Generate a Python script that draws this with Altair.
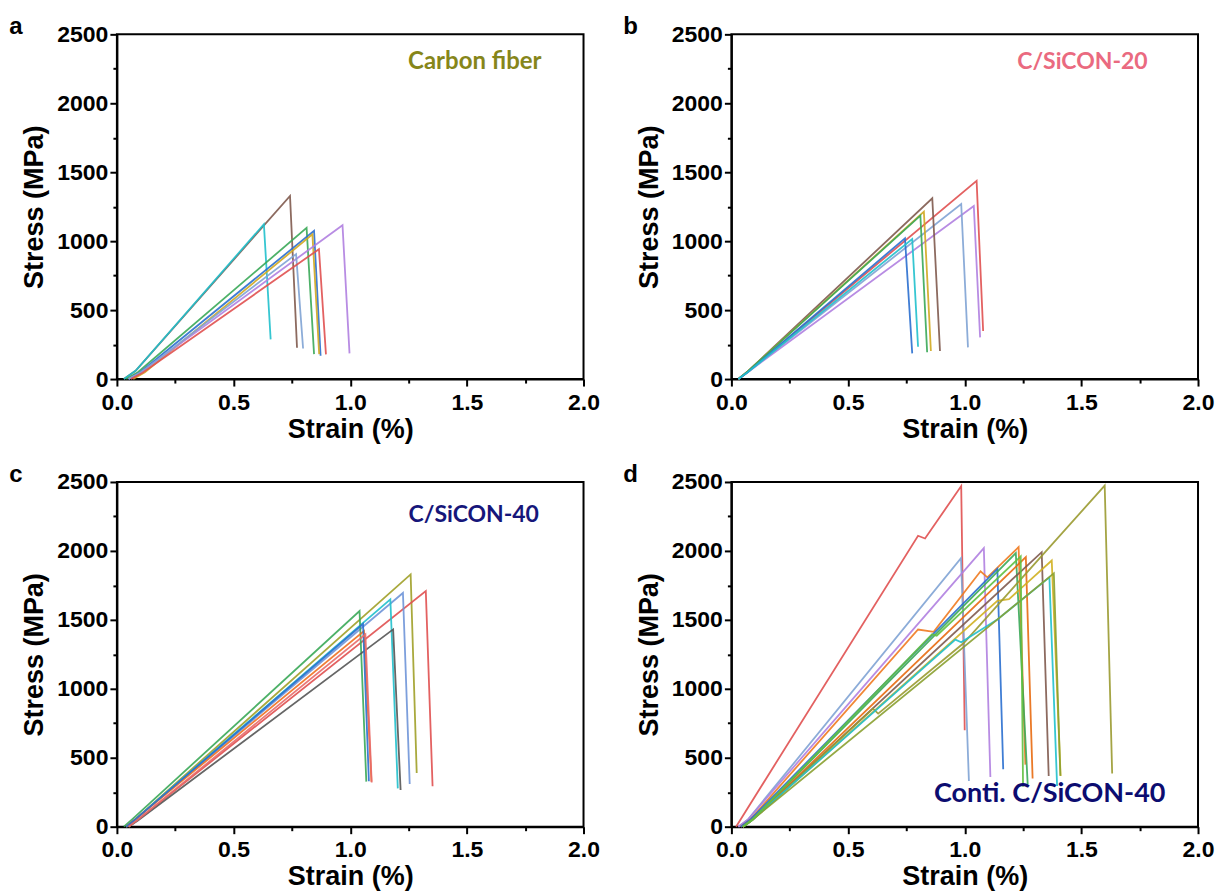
import altair as alt
import pandas as pd

LABEL_FONT = "Liberation Sans"
NOTE_FONT = "Lato"

X_TICKS = [0, 0.25, 0.5, 0.75, 1.0, 1.25, 1.5, 1.75, 2.0]
Y_TICKS = [0, 250, 500, 750, 1000, 1250, 1500, 1750, 2000, 2250, 2500]

# ---------------- panel a : Carbon fiber ----------------
A_COLORS = ["#7f5a4e", "#20c0cc", "#3aa858", "#2a6fcf", "#d0a820", "#b080e0", "#7fa3d4", "#e05050"]
A_STRAIN = [
    [0.03, 0.08, 0.742, 0.772],
    [0.03, 0.08, 0.630, 0.659],
    [0.04, 0.09, 0.813, 0.845],
    [0.05, 0.10, 0.845, 0.873],
    [0.07, 0.12, 0.838, 0.867],
    [0.05, 0.10, 0.967, 0.997],
    [0.05, 0.10, 0.768, 0.798],
    [0.06, 0.11, 0.866, 0.896],
]
A_STRESS = [
    [0, 60, 1328, 227],
    [0, 60, 1123, 288],
    [0, 50, 1096, 181],
    [0, 50, 1075, 169],
    [0, 50, 1049, 181],
    [0, 45, 1116, 186],
    [0, 45, 906, 222],
    [0, 45, 942, 179],
]

# ---------------- panel b : C/SiCON-20 ----------------
B_COLORS = ["#e05050", "#b080e0", "#7fa3d4", "#7f5a4e", "#d0a820", "#3aa858", "#2a6fcf", "#20c0cc"]
B_STRAIN = [
    [0.03, 0.07, 1.051, 1.079],
    [0.03, 0.07, 1.039, 1.066],
    [0.03, 0.07, 0.985, 1.014],
    [0.03, 0.07, 0.861, 0.894],
    [0.03, 0.07, 0.825, 0.855],
    [0.03, 0.07, 0.810, 0.839],
    [0.03, 0.07, 0.744, 0.775],
    [0.03, 0.07, 0.775, 0.800],
]
B_STRESS = [
    [0, 50, 1437, 348],
    [0, 50, 1255, 302],
    [0, 50, 1270, 230],
    [0, 55, 1311, 203],
    [0, 55, 1214, 203],
    [0, 55, 1185, 194],
    [0, 50, 1021, 186],
    [0, 50, 1016, 234],
]

# ---------------- panel c : C/SiCON-40 ----------------
C_COLORS = ["#a0a028", "#e05050", "#6f95d8", "#20c0cc", "#3aa858", "#555555", "#f07020", "#2a6fcf", "#e86a6a"]
C_STRAIN = [
    [0.04, 0.08, 1.259, 1.285],
    [0.05, 0.09, 1.324, 1.353],
    [0.04, 0.08, 1.226, 1.255],
    [0.04, 0.08, 1.172, 1.204],
    [0.03, 0.07, 1.040, 1.069],
    [0.05, 0.09, 1.184, 1.216],
    [0.04, 0.08, 1.059, 1.091],
    [0.04, 0.08, 1.055, 1.080],
    [0.05, 0.09, 1.065, 1.092],
]
C_STRESS = [
    [0, 55, 1830, 390],
    [0, 50, 1709, 293],
    [0, 55, 1695, 310],
    [0, 55, 1649, 278],
    [0, 60, 1564, 327],
    [0, 45, 1431, 266],
    [0, 55, 1419, 327],
    [0, 55, 1470, 330],
    [0, 50, 1395, 320],
]

# ---------------- panel d : Conti. C/SiCON-40 ----------------
D_COLORS = ["#e05050", "#7fa3d4", "#b080e0", "#f07a20", "#2a6fcf", "#3aa858", "#e86a10",
            "#7f5a4e", "#d0b020", "#9a9a30", "#20c0cc", "#8aa030", "#60c040"]
D_STRAIN = [
    [0.02, 0.80, 0.83, 0.985, 1.000],
    [0.03, 0.07, 0.984, 1.018],
    [0.03, 0.07, 1.082, 1.110],
    [0.04, 0.08, 0.80, 0.867, 1.068, 1.097, 1.231, 1.260],
    [0.04, 0.08, 1.140, 1.165],
    [0.05, 0.09, 1.219, 1.270],
    [0.05, 0.09, 1.262, 1.291],
    [0.05, 0.09, 1.330, 1.360],
    [0.05, 0.09, 1.140, 1.190, 1.373, 1.411],
    [0.05, 0.09, 0.607, 0.629, 0.996, 1.600, 1.632],
    [0.05, 0.09, 0.960, 0.985, 1.140, 1.363, 1.396],
    [0.05, 0.09, 1.382, 1.410],
    [0.05, 0.09, 0.860, 0.880, 1.240, 1.250],
]
D_STRESS = [
    [0, 2110, 2090, 2470, 700],
    [0, 50, 1947, 332],
    [0, 50, 2020, 361],
    [0, 50, 1430, 1413, 1852, 1808, 2028, 450],
    [0, 50, 1869, 417],
    [0, 50, 1984, 307],
    [0, 50, 1955, 349],
    [0, 50, 1991, 368],
    [0, 50, 1638, 1650, 1930, 368],
    [0, 50, 856, 820, 1332, 2474, 386],
    [0, 50, 1357, 1338, 1503, 1808, 295],
    [0, 50, 1837, 370],
    [0, 50, 1395, 1385, 1960, 290],
]

LETTERS = ["a", "b", "c", "d"]
NOTES = ["Carbon fiber", "C/SiCON-20", "C/SiCON-40", "Conti. C/SiCON-40"]
NOTE_COLORS = ["#86861a", "#ea6a80", "#16167a", "#0c0c70"]
NOTE_SIZES = [24, 23, 23, 27]
NOTE_X = [1.248, 1.225, 1.25, 0.868]
NOTE_Y = [2297, 2297, 2258, 234]

PANELS = [
    (A_STRAIN, A_STRESS, A_COLORS),
    (B_STRAIN, B_STRESS, B_COLORS),
    (C_STRAIN, C_STRESS, C_COLORS),
    (D_STRAIN, D_STRESS, D_COLORS),
]

ALL_NAMES, ALL_COLORS = [], []
for p, (_, _, cols) in enumerate(PANELS):
    for i, c in enumerate(cols):
        ALL_NAMES.append(f"{LETTERS[p]}{i}")
        ALL_COLORS.append(c)

PW, PH = 467, 345

x_axis = alt.Axis(
    values=X_TICKS, title="Strain (%)", grid=False,
    labelExpr="round(datum.value*100) % 50 == 0 ? format(datum.value, '.1f') : ''",
    tickSize={"condition": {"test": "round(datum.value*100) % 50 == 0", "value": 7}, "value": 4},
    labelOverlap=False, labelFlush=False, labelPadding=5, titlePadding=2,
)
y_axis = alt.Axis(
    values=Y_TICKS, title="Stress (MPa)", grid=False,
    labelExpr="datum.value % 500 == 0 ? format(datum.value, 'd') : ''",
    tickSize={"condition": {"test": "datum.value % 500 == 0", "value": 7}, "value": 4},
    labelOverlap=False, labelFlush=False, labelPadding=2, titlePadding=8,
)

def make_panel(p):
    strains, stresses, cols = PANELS[p]
    rows = []
    for i, (xs, ys) in enumerate(zip(strains, stresses)):
        for k, (xv, yv) in enumerate(zip(xs, ys)):
            rows.append({"line": f"{LETTERS[p]}{i}", "k": k, "strain": xv, "stress": yv})
    df = pd.DataFrame(rows)
    xe = alt.X("strain:Q", scale=alt.Scale(domain=[0, 2], nice=False, zero=True), axis=x_axis)
    ye = alt.Y("stress:Q", scale=alt.Scale(domain=[0, 2500], nice=False, zero=True), axis=y_axis)
    lines = alt.Chart(df).mark_line(strokeWidth=1.8, opacity=0.9).encode(
        x=xe, y=ye,
        color=alt.Color("line:N", scale=alt.Scale(domain=ALL_NAMES, range=ALL_COLORS), legend=None),
        order="k:Q",
    )
    ndf = pd.DataFrame({"strain": [NOTE_X[p]], "stress": [NOTE_Y[p]], "t": [NOTES[p]]})
    note = alt.Chart(ndf).mark_text(
        align="left", baseline="middle", font=NOTE_FONT, fontWeight="bold",
        fontSize=NOTE_SIZES[p], color=NOTE_COLORS[p]
    ).encode(x=xe, y=ye, text="t:N")
    ldf = pd.DataFrame({"t": [LETTERS[p]]})
    letter = alt.Chart(ldf).mark_text(
        align="center", baseline="middle", font=LABEL_FONT, fontWeight="bold",
        fontSize=24, color="black"
    ).encode(x=alt.value(-101), y=alt.value(-7), text="t:N")
    return alt.layer(lines, note, letter).properties(width=PW, height=PH)

chart = alt.concat(
    *[make_panel(p) for p in range(4)],
    columns=2,
    spacing={"row": 103, "column": 148},
    bounds="flush",
).properties(
    padding={"left": 8, "top": 14, "right": 5, "bottom": 5},
    background="white",
).configure_view(
    stroke="black", strokeWidth=2
).configure_axis(
    domainColor="black", domainWidth=2, tickColor="black", tickWidth=2,
    labelFont=LABEL_FONT, labelFontWeight="bold", labelFontSize=23, labelColor="black",
    titleFont=LABEL_FONT, titleFontWeight="bold", titleFontSize=27, titleColor="black",
)

chart.save("out.html", embed_options={"renderer": "svg", "actions": False})
